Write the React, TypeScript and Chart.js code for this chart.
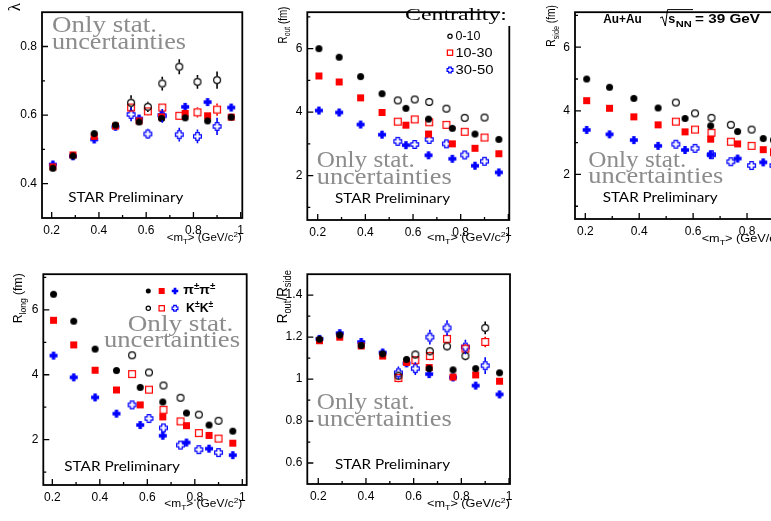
import React, { useEffect, useRef } from 'react';
import { Chart, registerables } from 'chart.js';

Chart.register(...registerables);

// ---------------- data ----------------
const mTPion = [0.205, 0.29, 0.38, 0.47, 0.57, 0.665, 0.765, 0.86, 0.96];
const mTKaon = [0.536, 0.607, 0.668, 0.74, 0.817, 0.9];

const centralityLabels = ['0-10', '10-30', '30-50'];

const lambdaPi0_10 = [0.445, 0.481, 0.546, 0.571, 0.58, 0.59, 0.592, 0.583, 0.594];
const lambdaPi10_30 = [0.449, 0.484, 0.538, 0.568, 0.583, 0.595, 0.605, 0.598, 0.594];
const lambdaPi30_50 = [0.456, 0.48, 0.529, 0.566, 0.59, 0.6, 0.624, 0.638, 0.622];
const lambdaK0_10 = [0.636, 0.624, 0.692, 0.741, 0.697, 0.702];
const lambdaK10_30 = [0.622, 0.611, 0.622, 0.598, 0.608, 0.616];
const lambdaK30_50 = [0.602, 0.545, 0.598, 0.543, 0.538, 0.567];
const lambdaErrPi = [0.005, 0.005, 0.006, 0.006, 0.007, 0.008, 0.01, 0.01, 0.01];
const lambdaErrK0_10 = [0.022, 0.015, 0.02, 0.022, 0.02, 0.025];
const lambdaErrK10_30 = [0.012, 0.012, 0.012, 0.012, 0.015, 0.018];
const lambdaErrK30_50 = [0.02, 0.015, 0.02, 0.02, 0.02, 0.025];

const routPi0_10 = [6.0, 5.73, 5.12, 4.58, 4.12, 3.78, 3.49, 3.31, 3.14];
const routPi10_30 = [5.14, 4.95, 4.45, 3.99, 3.59, 3.31, 3.0, 2.86, 2.69];
const routPi30_50 = [4.05, 3.99, 3.61, 3.29, 2.96, 2.64, 2.53, 2.31, 2.1];
const routK0_10 = [4.37, 4.4, 4.32, 4.11, 3.82, 3.83];
const routK10_30 = [3.7, 3.77, 3.68, 3.6, 3.38, 3.2];
const routK30_50 = [3.08, 2.98, 3.14, 3.0, 2.65, 2.45];

const rsidePi0_10 = [5.0, 4.74, 4.39, 4.09, 3.76, 3.53, 3.35, 3.13, 3.0];
const rsidePi10_30 = [4.32, 4.08, 3.81, 3.56, 3.34, 3.11, 2.96, 2.78, 2.73];
const rsidePi30_50 = [3.4, 3.26, 3.08, 2.9, 2.77, 2.62, 2.5, 2.38, 2.28];
const rsideK0_10 = [4.26, 3.92, 3.78, 3.56, 3.41, 3.08];
const rsideK10_30 = [3.66, 3.41, 3.31, 3.03, 2.9, 2.7];
const rsideK30_50 = [2.95, 2.82, 2.62, 2.4, 2.28, 2.28];

const rlongPi0_10 = [6.48, 5.65, 4.79, 4.13, 3.61, 3.16, 2.82, 2.45, 2.26];
const rlongPi10_30 = [5.68, 4.92, 4.14, 3.53, 3.07, 2.7, 2.43, 2.13, 1.89];
const rlongPi30_50 = [4.59, 3.92, 3.3, 2.8, 2.45, 2.12, 1.91, 1.72, 1.52];
const rlongK0_10 = [4.6, 4.07, 3.67, 3.29, 2.77, 2.58];
const rlongK10_30 = [4.02, 3.54, 2.92, 2.56, 2.2, 2.03];
const rlongK30_50 = [3.07, 2.65, 2.36, 1.83, 1.69, 1.6];

const ratioPi0_10 = [1.19, 1.21, 1.16, 1.12, 1.094, 1.05, 1.044, 1.05, 1.03];
const ratioPi10_30 = [1.183, 1.2, 1.158, 1.11, 1.08, 1.055, 1.01, 1.02, 0.99];
const ratioPi30_50 = [1.192, 1.219, 1.177, 1.127, 1.075, 1.024, 1.008, 0.969, 0.927];
const ratioK0_10 = [1.016, 1.117, 1.133, 1.156, 1.11, 1.244];
const ratioK10_30 = [1.005, 1.09, 1.11, 1.192, 1.145, 1.177];
const ratioK30_50 = [1.03, 1.05, 1.2, 1.244, 1.153, 1.064];
const ratioErrPi = [0.008, 0.008, 0.008, 0.008, 0.01, 0.01, 0.01, 0.01, 0.01];
const ratioErrK0_10 = [0.02, 0.02, 0.02, 0.02, 0.02, 0.03];
const ratioErrK10_30 = [0.02, 0.02, 0.02, 0.022, 0.022, 0.025];
const ratioErrK30_50 = [0.03, 0.03, 0.035, 0.037, 0.035, 0.04];

const xTicks = [0.2, 0.4, 0.6, 0.8, 1];
const xMinor = [0.3, 0.5, 0.7, 0.9];
const lambdaYTicks = [0.4, 0.6, 0.8];
const lambdaYMinor = [0.5, 0.7];
const radiusYTicks = [2, 4, 6];
const radiusYMinor = [1, 3, 5, 7];
const ratioYTicks = [0.6, 0.8, 1, 1.2, 1.4];
const ratioYMinor = [0.7, 0.9, 1.1, 1.3];

// ---------------- styles ----------------
const SERIF = '"Liberation Serif", "Times New Roman", serif';
const SANS = '"Liberation Sans", Arial, sans-serif';
const CAL = 'Lato, "Open Sans", sans-serif';
const GREY = '#8c8c8c';
const BLACK = '#000000';
const RED = '#ff0000';
const BLUE = '#0000ff';

type Seg = { t: string; m?: 'sub' | 'sup' };
type TextItem = {
  segs: Seg[]; x: number; y: number; size: number; family: string; weight?: string;
  color?: string; align?: 'left' | 'right' | 'center'; width?: number; rotate?: boolean; perp?: number;
};
type MarkerKind = 'fcircle' | 'ocircle' | 'fsquare' | 'osquare' | 'fplus' | 'oplus';

function plusPath(ctx: CanvasRenderingContext2D, cx: number, cy: number, s: number, t: number) {
  const a = s / 2, b = t / 2;
  ctx.beginPath();
  ctx.moveTo(cx - b, cy - a); ctx.lineTo(cx + b, cy - a); ctx.lineTo(cx + b, cy - b);
  ctx.lineTo(cx + a, cy - b); ctx.lineTo(cx + a, cy + b); ctx.lineTo(cx + b, cy + b);
  ctx.lineTo(cx + b, cy + a); ctx.lineTo(cx - b, cy + a); ctx.lineTo(cx - b, cy + b);
  ctx.lineTo(cx - a, cy + b); ctx.lineTo(cx - a, cy - b); ctx.lineTo(cx - b, cy - b);
  ctx.closePath();
}

function drawMarkerShape(ctx: CanvasRenderingContext2D, kind: MarkerKind, cx: number, cy: number, s: number) {
  ctx.save();
  ctx.lineWidth = 1.2;
  switch (kind) {
    case 'fcircle':
      ctx.beginPath(); ctx.arc(cx, cy, s / 2, 0, Math.PI * 2); ctx.fillStyle = BLACK; ctx.fill(); break;
    case 'ocircle':
      ctx.beginPath(); ctx.arc(cx, cy, s / 2 - 0.6, 0, Math.PI * 2); ctx.strokeStyle = BLACK; ctx.stroke(); break;
    case 'fsquare':
      ctx.fillStyle = RED; ctx.fillRect(cx - s / 2, cy - s / 2, s, s); break;
    case 'osquare':
      ctx.strokeStyle = RED; ctx.strokeRect(cx - s / 2 + 0.6, cy - s / 2 + 0.6, s - 1.2, s - 1.2); break;
    case 'fplus':
      plusPath(ctx, cx, cy, s, s * 0.42); ctx.fillStyle = BLUE; ctx.fill(); break;
    case 'oplus':
      plusPath(ctx, cx, cy, s - 1.2, (s - 1.2) * 0.44); ctx.strokeStyle = BLUE; ctx.stroke(); break;
  }
  ctx.restore();
}

const markerSize: Record<MarkerKind, number> = { fcircle: 7, ocircle: 8, fsquare: 7, osquare: 8, fplus: 8, oplus: 9 };

function makeMarker(kind: MarkerKind): HTMLCanvasElement {
  const s = markerSize[kind];
  const n = Math.ceil(s) + 4;
  const c = document.createElement('canvas');
  c.width = n; c.height = n;
  drawMarkerShape(c.getContext('2d') as CanvasRenderingContext2D, kind, n / 2, n / 2, s);
  return c;
}

function drawRich(ctx: CanvasRenderingContext2D, it: TextItem, ox: number, oy: number) {
  const fontFor = (s: Seg) => `${it.weight || 'normal'} ${s.m ? it.size * 0.7 : it.size}px ${it.family}`;
  let w0 = 0;
  const ws = it.segs.map((s) => { ctx.font = fontFor(s); const w = ctx.measureText(s.t).width; w0 += w; return w; });
  const sx = it.width ? it.width / w0 : 1;
  ctx.save();
  ctx.translate(it.x - ox, it.y - oy);
  if (it.rotate) ctx.rotate(-Math.PI / 2);
  ctx.scale(sx, it.perp || 1);
  ctx.fillStyle = it.color || BLACK;
  ctx.textBaseline = 'alphabetic';
  ctx.textAlign = 'left';
  let cx = it.align === 'right' ? -w0 : it.align === 'center' ? -w0 / 2 : 0;
  it.segs.forEach((s, i) => {
    ctx.font = fontFor(s);
    const dy = s.m === 'sub' ? it.size * 0.28 : s.m === 'sup' ? -it.size * 0.42 : 0;
    ctx.fillText(s.t, cx, dy);
    cx += ws[i];
  });
  ctx.restore();
}

const mtTitle: Seg[] = [{ t: '<m' }, { t: 'T', m: 'sub' }, { t: '> (GeV/c' }, { t: '2', m: 'sup' }, { t: ')' }];
const onlyStat = (x1: number, y1: number, w1: number, x2: number, y2: number, w2: number): TextItem[] => [
  { segs: [{ t: 'Only stat.' }], x: x1, y: y1, size: 23, family: SERIF, color: GREY, width: w1 },
  { segs: [{ t: 'uncertainties' }], x: x2, y: y2, size: 23, family: SERIF, color: GREY, width: w2 },
];
const star = (x: number, y: number, w: number): TextItem => ({ segs: [{ t: 'STAR Preliminary' }], x, y, size: 13, family: CAL, width: w });

type SeriesSpec = { x: number[]; y: number[]; kind: MarkerKind; err?: number[] };
type Panel = {
  canvas: { left: number; top: number; w: number; h: number };
  frame: { l: number; t: number; r: number; b: number };
  xr: [number, number]; yr: [number, number];
  yTicks: number[]; yMinor: number[];
  series: SeriesSpec[];
  texts: TextItem[];
  legendMarkers?: { kind: MarkerKind; x: number; y: number; s: number }[];
  whiteRects?: { x: number; y: number; w: number; h: number }[];
  sqrt?: boolean;
};

const six = (p: number[][], k: number[][], ep?: number[][], ek?: number[][]): SeriesSpec[] => [
  { x: mTPion, y: p[0], kind: 'fcircle', err: ep ? ep[0] : undefined },
  { x: mTPion, y: p[1], kind: 'fsquare', err: ep ? ep[1] : undefined },
  { x: mTPion, y: p[2], kind: 'fplus', err: ep ? ep[2] : undefined },
  { x: mTKaon, y: k[0], kind: 'ocircle', err: ek ? ek[0] : undefined },
  { x: mTKaon, y: k[1], kind: 'osquare', err: ek ? ek[1] : undefined },
  { x: mTKaon, y: k[2], kind: 'oplus', err: ek ? ek[2] : undefined },
];

const panels: Panel[] = [
  {
    canvas: { left: 0, top: 0, w: 258, h: 258 },
    frame: { l: 42, t: 4, r: 242.3, b: 218 },
    xr: [0.159, 1.0068], yr: [0.3, 0.9],
    yTicks: lambdaYTicks, yMinor: lambdaYMinor,
    series: six([lambdaPi0_10, lambdaPi10_30, lambdaPi30_50], [lambdaK0_10, lambdaK10_30, lambdaK30_50],
      [lambdaErrPi, lambdaErrPi, lambdaErrPi], [lambdaErrK0_10, lambdaErrK10_30, lambdaErrK30_50]),
    texts: [
      { segs: [{ t: 'λ' }], x: 20, y: 3, size: 17, family: SERIF, rotate: true, align: 'right' },
      ...onlyStat(52, 32, 105, 52, 48.5, 134),
      star(68.3, 201.7, 115),
      { segs: mtTitle, x: 241.7, y: 240.7, size: 10, family: SANS, align: 'right', width: 75 },
    ],
  },
  {
    canvas: { left: 262, top: 0, w: 258, h: 258 },
    frame: { l: 307.3, t: 5, r: 509.3, b: 220 },
    xr: [0.1563, 1.004], yr: [0.6, 7.15],
    yTicks: radiusYTicks, yMinor: radiusYMinor,
    series: six([routPi0_10, routPi10_30, routPi30_50], [routK0_10, routK10_30, routK30_50]),
    whiteRects: [{ x: 500, y: 7, w: 14, h: 19 }],
    texts: [
      { segs: [{ t: 'R' }, { t: 'out', m: 'sub' }, { t: ' (fm)' }], x: 286.5, y: 6.7, size: 10, family: SANS, rotate: true, align: 'right', width: 36.7, perp: 1.3 },
      { segs: [{ t: 'Centrality:' }], x: 405, y: 20, size: 17, family: SERIF, width: 102 },
      { segs: [{ t: centralityLabels[0] }], x: 455.5, y: 40, size: 12, family: SANS, width: 25 },
      { segs: [{ t: centralityLabels[1] }], x: 455.5, y: 56.7, size: 12, family: SANS, width: 37 },
      { segs: [{ t: centralityLabels[2] }], x: 455.5, y: 73.7, size: 12, family: SANS, width: 38 },
      ...onlyStat(316.7, 166.7, 98, 316.7, 184, 135),
      star(335, 202.7, 115),
      { segs: mtTitle, x: 510, y: 240.7, size: 10, family: SANS, align: 'right', width: 83 },
    ],
    legendMarkers: [
      { kind: 'ocircle', x: 450, y: 36.3, s: 5.5 },
      { kind: 'osquare', x: 450, y: 52.7, s: 6.5 },
      { kind: 'oplus', x: 450, y: 70, s: 7 },
    ],
  },
  {
    canvas: { left: 530, top: 0, w: 290, h: 258 },
    frame: { l: 575, t: 4.7, r: 802.3, b: 219 },
    xr: [0.1618, 1.005], yr: [0.6, 7.1],
    yTicks: radiusYTicks, yMinor: radiusYMinor,
    series: six([rsidePi0_10, rsidePi10_30, rsidePi30_50], [rsideK0_10, rsideK10_30, rsideK30_50]),
    sqrt: true,
    texts: [
      { segs: [{ t: 'R' }, { t: 'side', m: 'sub' }, { t: ' (fm)' }], x: 555, y: 5, size: 10.5, family: SANS, rotate: true, align: 'right', width: 41.7, perp: 1.25 },
      { segs: [{ t: 'Au+Au' }], x: 603.3, y: 23.3, size: 12.5, family: SANS, weight: 'bold', width: 38.4 },
      { segs: [{ t: 's' }], x: 668.3, y: 23.3, size: 12.5, family: SANS, weight: 'bold', width: 7 },
      { segs: [{ t: 'NN' }], x: 675.7, y: 27.3, size: 9, family: SANS, weight: 'bold', width: 16 },
      { segs: [{ t: '= 39 GeV' }], x: 695, y: 23.3, size: 12.5, family: SANS, weight: 'bold', width: 65 },
      ...onlyStat(588.3, 166.7, 98, 588.3, 183.3, 135),
      star(602.7, 201.7, 115),
      { segs: mtTitle, x: 701.7, y: 241.7, size: 10, family: SANS, align: 'left', width: 83 },
    ],
  },
  {
    canvas: { left: 0, top: 262, w: 258, h: 259 },
    frame: { l: 43.3, t: 272.7, r: 246.7, b: 485 },
    xr: [0.162, 1.0185], yr: [0.6, 7.1],
    yTicks: radiusYTicks, yMinor: radiusYMinor,
    series: six([rlongPi0_10, rlongPi10_30, rlongPi30_50], [rlongK0_10, rlongK10_30, rlongK30_50]),
    texts: [
      { segs: [{ t: 'R' }, { t: 'long', m: 'sub' }, { t: ' (fm)' }], x: 22, y: 273.3, size: 11, family: SANS, rotate: true, align: 'right', width: 50, perp: 1.2 },
      ...onlyStat(127.7, 331, 105.7, 104, 347.3, 136),
      star(64.3, 470.7, 115.7),
      { segs: mtTitle, x: 242.3, y: 506.7, size: 10, family: SANS, align: 'right', width: 78 },
      { segs: [{ t: 'π' }, { t: '±', m: 'sup' }, { t: 'π' }, { t: '±', m: 'sup' }], x: 183.3, y: 294.3, size: 13, family: SANS, weight: 'bold', width: 32 },
      { segs: [{ t: 'K' }, { t: '±', m: 'sup' }, { t: 'K' }, { t: '±', m: 'sup' }], x: 186, y: 312.3, size: 12.5, family: SANS, weight: 'bold', width: 27.3 },
    ],
    legendMarkers: [
      { kind: 'fcircle', x: 148.3, y: 291, s: 5 },
      { kind: 'fsquare', x: 161.7, y: 291, s: 6 },
      { kind: 'fplus', x: 175, y: 291, s: 6.5 },
      { kind: 'ocircle', x: 148.3, y: 308.3, s: 5.5 },
      { kind: 'osquare', x: 161.7, y: 308.3, s: 6.5 },
      { kind: 'oplus', x: 175, y: 308.3, s: 7 },
    ],
  },
  {
    canvas: { left: 262, top: 262, w: 258, h: 259 },
    frame: { l: 307.3, t: 272.7, r: 510, b: 484 },
    xr: [0.154, 1.004], yr: [0.5, 1.5],
    yTicks: ratioYTicks, yMinor: ratioYMinor,
    series: six([ratioPi0_10, ratioPi10_30, ratioPi30_50], [ratioK0_10, ratioK10_30, ratioK30_50],
      [ratioErrPi, ratioErrPi, ratioErrPi], [ratioErrK0_10, ratioErrK10_30, ratioErrK30_50]),
    texts: [
      { segs: [{ t: 'R' }, { t: 'out', m: 'sub' }, { t: '/R' }, { t: 'side', m: 'sub' }], x: 287.3, y: 270, size: 13, family: SANS, rotate: true, align: 'right', width: 53.3, perp: 1.1 },
      ...onlyStat(316.7, 409.3, 98, 316.7, 426, 135),
      star(335, 469.3, 115),
      { segs: mtTitle, x: 510, y: 506.7, size: 10, family: SANS, align: 'right', width: 83 },
    ],
  },
];

const fmt = (v: number) => String(Math.round(v * 100) / 100);

function panelPlugin(p: Panel) {
  const ox = p.canvas.left, oy = p.canvas.top;
  return {
    id: 'rootPanel',
    afterDatasetsDraw(chart: any) {
      const ctx: CanvasRenderingContext2D = chart.ctx;
      const ys = chart.scales.y;
      chart.data.datasets.forEach((ds: any, i: number) => {
        if (!ds.errors) return;
        const meta = chart.getDatasetMeta(i);
        ctx.save();
        ctx.strokeStyle = ds.errColor;
        ctx.lineWidth = 1.6;
        meta.data.forEach((el: any, j: number) => {
          const v = ds.data[j].y, e = ds.errors[j];
          const yt = ys.getPixelForValue(v + e), yb = ys.getPixelForValue(v - e);
          const g = ds.errGap;
          ctx.beginPath();
          if (yt < el.y - g) { ctx.moveTo(el.x, yt); ctx.lineTo(el.x, el.y - g); }
          if (yb > el.y + g) { ctx.moveTo(el.x, el.y + g); ctx.lineTo(el.x, yb); }
          ctx.stroke();
        });
        ctx.restore();
      });
    },
    afterDraw(chart: any) {
      const ctx: CanvasRenderingContext2D = chart.ctx;
      const { left, right, top, bottom } = chart.chartArea;
      const xs = chart.scales.x, ys = chart.scales.y;
      ctx.save();
      ctx.strokeStyle = BLACK;
      ctx.lineWidth = 1.8;
      ctx.strokeRect(left, top, right - left, bottom - top);
      ctx.lineWidth = 1.3;
      ctx.beginPath();
      xTicks.forEach((v) => { const px = xs.getPixelForValue(v); ctx.moveTo(px, bottom); ctx.lineTo(px, bottom - 6); });
      xMinor.forEach((v) => { const px = xs.getPixelForValue(v); ctx.moveTo(px, bottom); ctx.lineTo(px, bottom - 3); });
      p.yTicks.forEach((v) => { const py = ys.getPixelForValue(v); ctx.moveTo(left, py); ctx.lineTo(left + 6, py); });
      p.yMinor.forEach((v) => { const py = ys.getPixelForValue(v); if (py > top + 1 && py < bottom - 1) { ctx.moveTo(left, py); ctx.lineTo(left + 3, py); } });
      ctx.stroke();
      (p.whiteRects || []).forEach((r) => { ctx.fillStyle = '#ffffff'; ctx.fillRect(r.x - ox, r.y - oy, r.w, r.h); });
      if (p.sqrt) {
        ctx.lineWidth = 1;
        ctx.beginPath();
        ctx.moveTo(660 - ox, 18); ctx.lineTo(662.3 - ox, 16.8); ctx.lineTo(665.3 - ox, 26);
        ctx.lineTo(667.5 - ox, 9.6); ctx.lineTo(693 - ox, 9.6);
        ctx.stroke();
      }
      ctx.restore();
      (p.legendMarkers || []).forEach((m) => drawMarkerShape(ctx, m.kind, m.x - ox, m.y - oy, m.s));
      p.texts.forEach((t) => drawRich(ctx, t, ox, oy));
    },
  };
}

export default function App() {
  const refs = useRef<(HTMLCanvasElement | null)[]>([]);
  useEffect(() => {
    const markers: Record<string, HTMLCanvasElement> = {};
    (['fcircle', 'ocircle', 'fsquare', 'osquare', 'fplus', 'oplus'] as MarkerKind[]).forEach((k) => { markers[k] = makeMarker(k); });
    const errColor: Record<MarkerKind, string> = { fcircle: BLACK, ocircle: BLACK, fsquare: RED, osquare: RED, fplus: BLUE, oplus: BLUE };
    const charts: Chart[] = [];
    panels.forEach((p, idx) => {
      const cv = refs.current[idx];
      if (!cv) return;
      const datasets = p.series.map((s) => ({
        data: s.x.map((x, i) => ({ x, y: s.y[i] })),
        pointStyle: markers[s.kind],
        pointRadius: 4,
        showLine: false,
        errors: s.err,
        errColor: errColor[s.kind],
        errGap: markerSize[s.kind] / 2,
      }));
      const chart = new Chart(cv, {
        type: 'scatter',
        data: { datasets } as any,
        options: {
          animation: false,
          responsive: false,
          devicePixelRatio: 1,
          events: [],
          layout: {
            padding: {
              left: 0, bottom: 0,
              top: p.frame.t - p.canvas.top,
              right: p.canvas.left + p.canvas.w - p.frame.r,
            },
          },
          plugins: { legend: { display: false }, tooltip: { enabled: false }, title: { display: false } },
          scales: {
            x: {
              type: 'linear', position: 'bottom', min: p.xr[0], max: p.xr[1],
              grid: { display: false, drawTicks: false }, border: { display: false },
              ticks: { font: { family: SANS, size: 12 }, color: BLACK, padding: 5, maxRotation: 0, autoSkip: false, callback: (v: any) => fmt(Number(v)) },
              afterBuildTicks: (s: any) => { s.ticks = xTicks.map((v) => ({ value: v })); },
              afterFit: (s: any) => { s.height = p.canvas.top + p.canvas.h - p.frame.b; },
            },
            y: {
              type: 'linear', position: 'left', min: p.yr[0], max: p.yr[1],
              grid: { display: false, drawTicks: false }, border: { display: false },
              ticks: { font: { family: SANS, size: 12 }, color: BLACK, padding: 5, autoSkip: false, callback: (v: any) => fmt(Number(v)) },
              afterBuildTicks: (s: any) => { s.ticks = p.yTicks.map((v) => ({ value: v })); },
              afterFit: (s: any) => { s.width = p.frame.l - p.canvas.left; },
            },
          },
        } as any,
        plugins: [panelPlugin(p)],
      });
      charts.push(chart);
    });
    return () => { charts.forEach((c) => c.destroy()); };
  }, []);

  return (
    <div style={{ position: 'absolute', left: 0, top: 0, width: 771, height: 521, overflow: 'hidden', background: '#ffffff' }}>
      {panels.map((p, i) => (
        <canvas
          key={i}
          ref={(el) => { refs.current[i] = el; }}
          width={p.canvas.w}
          height={p.canvas.h}
          style={{ position: 'absolute', left: p.canvas.left, top: p.canvas.top, width: p.canvas.w, height: p.canvas.h }}
        />
      ))}
    </div>
  );
}
